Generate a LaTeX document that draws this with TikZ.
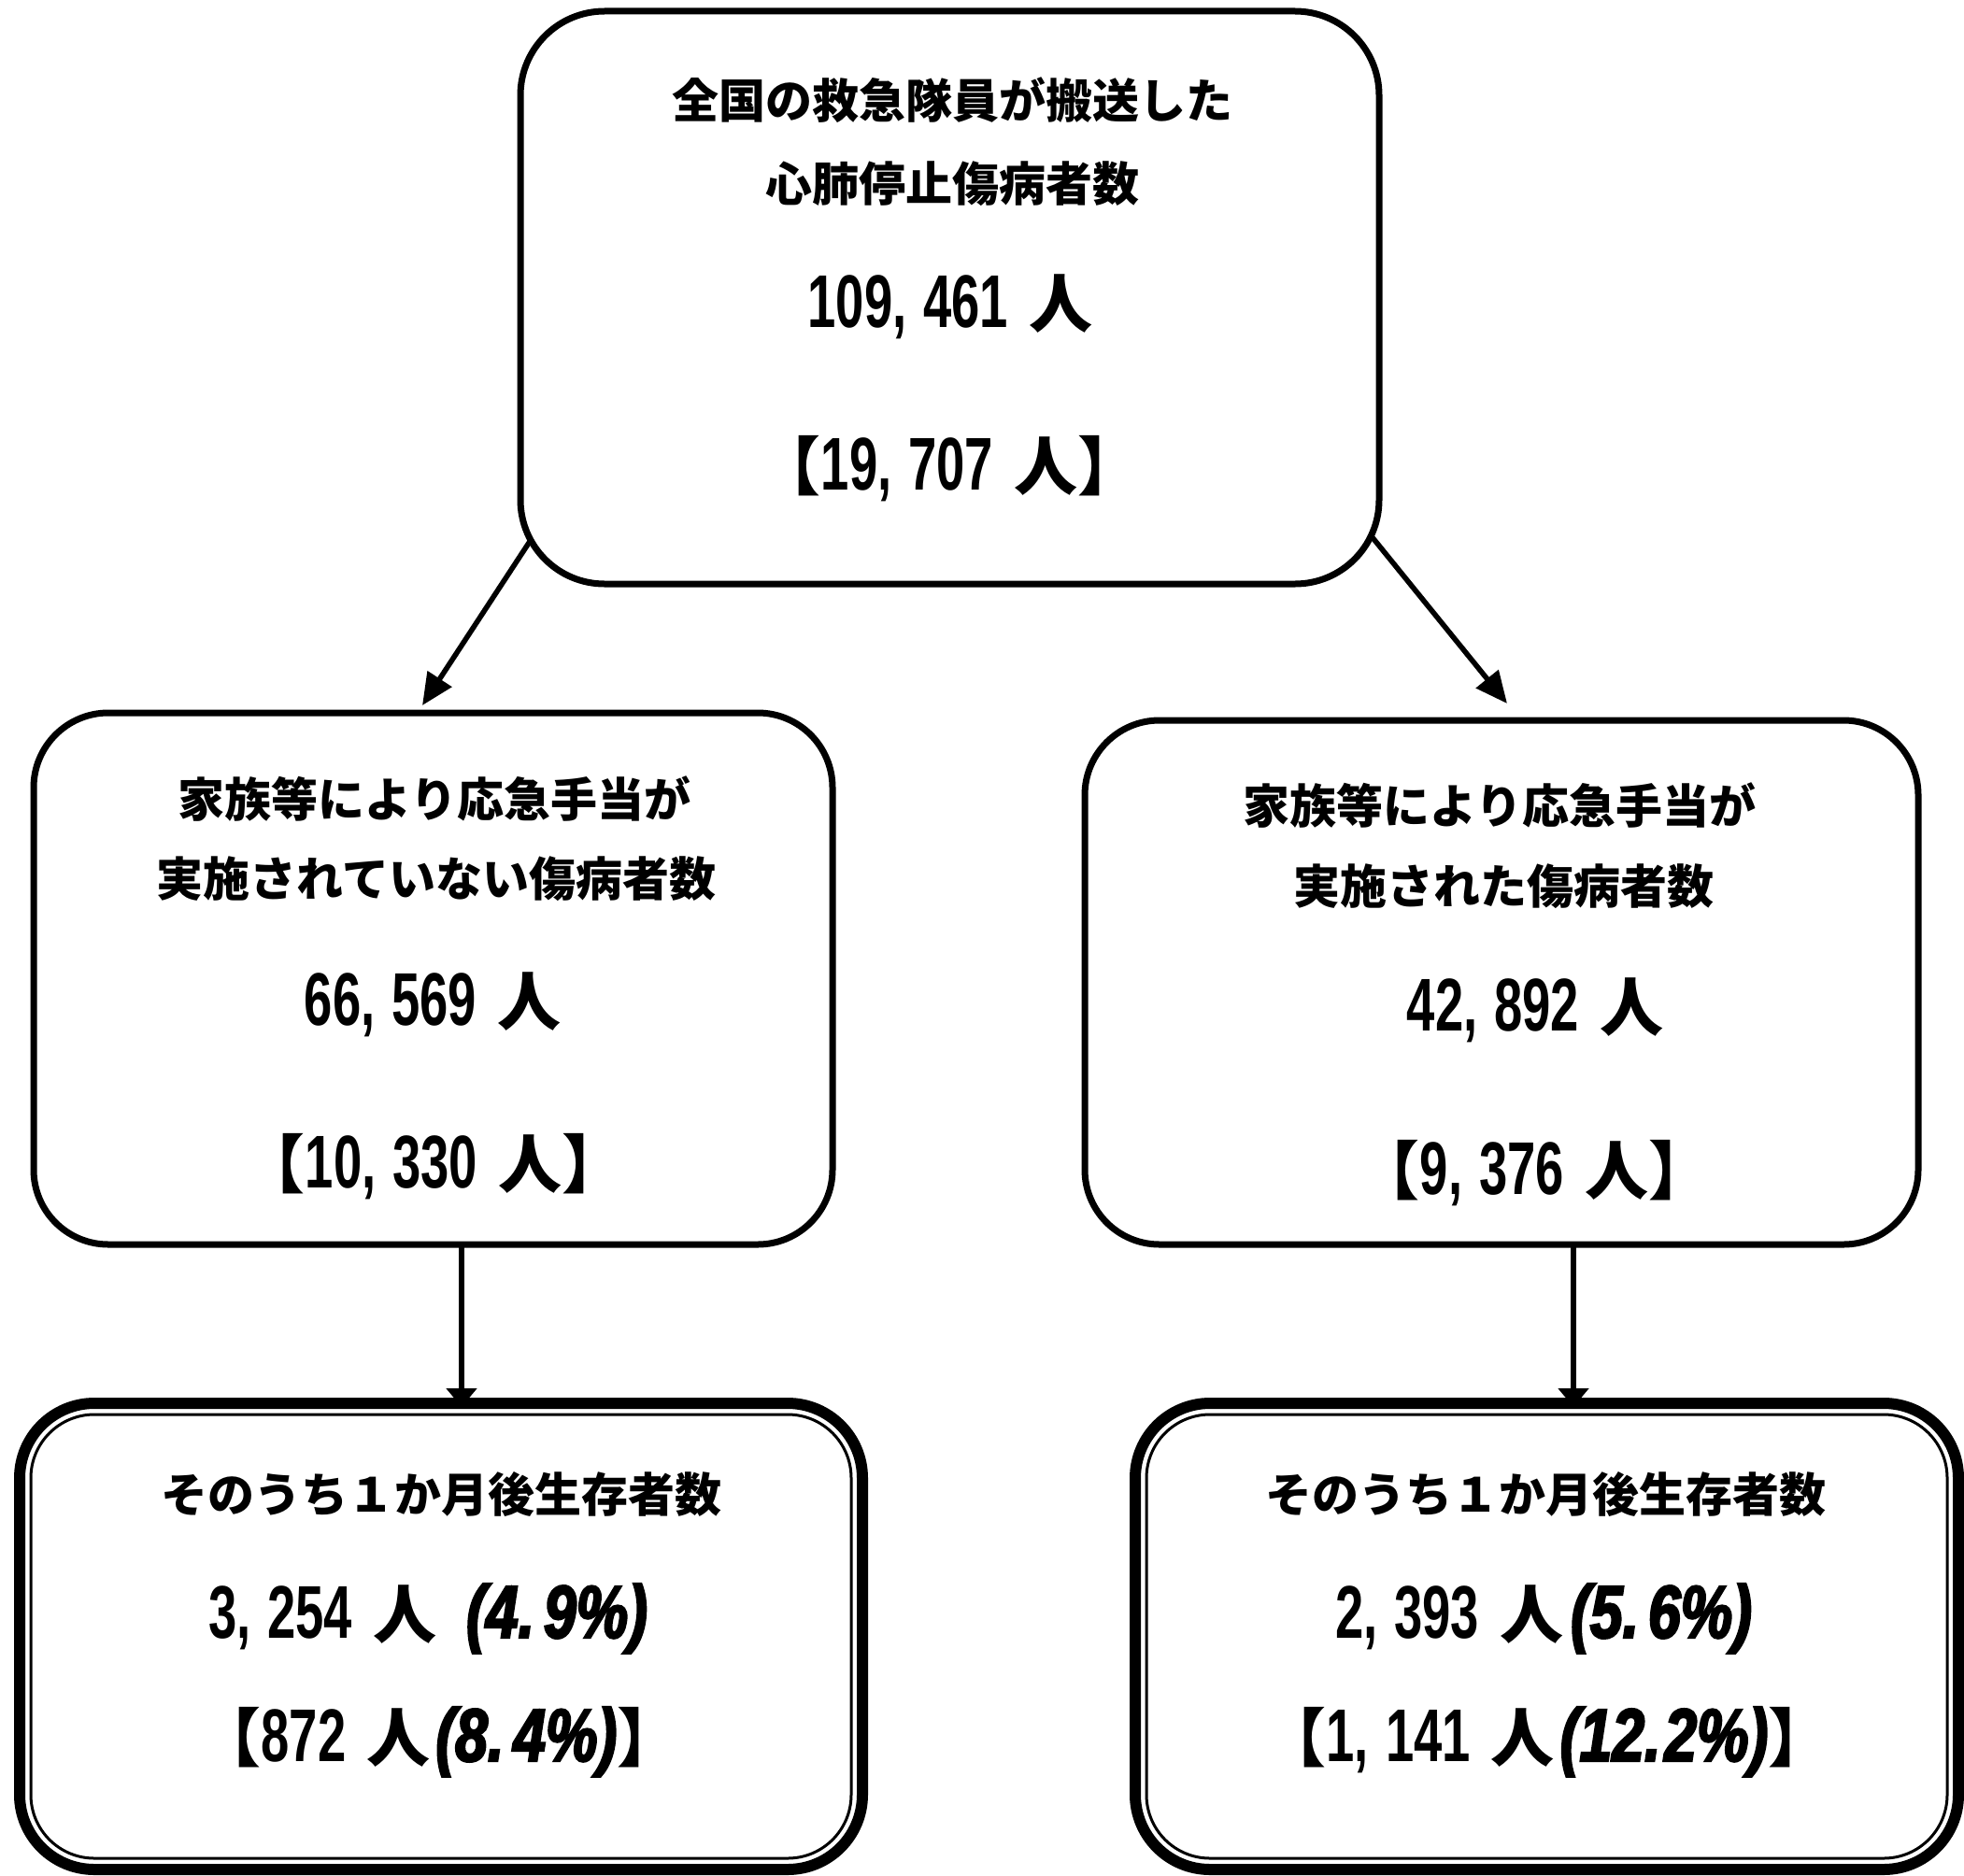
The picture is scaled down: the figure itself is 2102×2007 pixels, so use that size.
\documentclass[tikz,border=0pt]{standalone}
\usepackage{fontspec}
\usetikzlibrary{arrows.meta}
\newfontfamily\jpfont{Noto Sans CJK JP}
\newfontfamily\numfont{Liberation Sans}[FakeStretch=0.68]
\newfontfamily\pctfont{Liberation Sans}[FakeStretch=0.78,FakeBold=3]
\newcommand\jtxt[1]{{\jpfont\bfseries\fontsize{25pt}{30pt}\selectfont #1}}
\newcommand\numtxt[1]{{\numfont\bfseries\fontsize{40pt}{44pt}\selectfont #1}}
\newcommand\pcttxt[1]{{\pctfont\bfseries\itshape\fontsize{40pt}{44pt}\selectfont #1}}
\newcommand\bigj[1]{{\jpfont\bfseries\fontsize{34pt}{40pt}\selectfont #1}}
\tikzset{
  box/.style={draw, line width=3.5pt, rounded corners=40pt, inner sep=0pt, outer sep=0pt},
  outerbox/.style={draw, line width=6pt, rounded corners=40pt, inner sep=0pt, outer sep=0pt},
  innerbox/.style={draw, line width=1.5pt, rounded corners=34pt, inner sep=0pt, outer sep=0pt},
  label/.style={inner sep=0pt, outer sep=0pt, anchor=center},
  numline/.style={inner sep=0pt, outer sep=0pt, anchor=base},
  diagarrow/.style={line width=2.8pt, -{Triangle[length=17pt,width=15pt]}},
  vertarrow/.style={line width=3pt, -{Triangle[length=10pt,width=16pt]}}
}
\begin{document}
\begin{tikzpicture}[x=0.5pt,y=-0.5pt]
\useasboundingbox (0,0) rectangle (2102,2007);
% boxes
\node[box, rounded corners=45pt, minimum width=459.5pt, minimum height=306.5pt] (top) at (1016.5,318.5) {};
\node[box, minimum width=427.5pt, minimum height=284.5pt] (ml) at (463.5,1047.5) {};
\node[box, minimum width=446pt, minimum height=280.5pt] (mr) at (1607,1051.5) {};
\node[outerbox, minimum width=451pt, minimum height=249.5pt] (lbo) at (472,1751.5) {};
\node[innerbox, minimum width=439pt, minimum height=237.5pt] (lbi) at (472,1751.5) {};
\node[outerbox, minimum width=440.5pt, minimum height=249.5pt] (rbo) at (1655.5,1751.5) {};
\node[innerbox, minimum width=428.5pt, minimum height=237.5pt] (rbi) at (1655.5,1751.5) {};
% top texts
\node[label] (t1) at (1019,107) {\jtxt{全国の救急隊員が搬送した}};
\node[label] (t2) at (1019,197) {\jtxt{心肺停止傷病者数}};
\node[numline] (t3) at (1017,350) {\numtxt{109,\hspace{9pt}461}\hspace{11pt}\bigj{人}};
\node[numline] (t4) at (1016,524) {\bigj{【}\numtxt{19,\hspace{9pt}707}\hspace{11pt}\bigj{人】}};
% left middle texts
\node[label] (l1) at (465,855) {\jtxt{家族等により応急手当が}};
\node[label] (l2) at (467,941) {\jtxt{実施されていない傷病者数}};
\node[numline] (l3) at (463,1097) {\numtxt{66,\hspace{9pt}569}\hspace{11pt}\bigj{人}};
\node[numline] (l4) at (464,1271) {\bigj{【}\numtxt{10,\hspace{9pt}330}\hspace{11pt}\bigj{人】}};
% right middle texts
\node[label] (r1) at (1605,862) {\jtxt{家族等により応急手当が}};
\node[label] (r2) at (1609,949) {\jtxt{実施された傷病者数}};
\node[numline] (r3) at (1643,1103) {\numtxt{42,\hspace{9pt}892}\hspace{11pt}\bigj{人}};
\node[numline] (r4) at (1642,1278) {\bigj{【}\numtxt{9,\hspace{9pt}376}\hspace{11pt}\bigj{人】}};
% bottom left texts
\node[label] (b1) at (472,1599) {\jtxt{そのうち１か月後生存者数}};
\node[numline] (b2) at (458,1753) {\numtxt{3,\hspace{9pt}254}\hspace{11pt}\bigj{人}\hspace{16pt}\pcttxt{(4.\hspace{5pt}9\%)}};
\node[numline] (b3) at (470,1885) {\bigj{【}\numtxt{872}\hspace{11pt}\bigj{人}\hspace{3pt}\pcttxt{(8.\hspace{5pt}4\%)}\bigj{】}};
% bottom right texts
\node[label] (c1) at (1654,1599) {\jtxt{そのうち１か月後生存者数}};
\node[numline] (c2) at (1652,1753) {\numtxt{2,\hspace{9pt}393}\hspace{11pt}\bigj{人}\hspace{4pt}\pcttxt{(5.\hspace{5pt}6\%)}};
\node[numline] (c3) at (1656,1885) {\bigj{【}\numtxt{1,\hspace{9pt}141}\hspace{11pt}\bigj{人}\hspace{3pt}\pcttxt{(12.\hspace{2pt}2\%)}\bigj{】}};
% connectors
\coordinate (topl) at (568,578);
\coordinate (mlin) at (452,755);
\coordinate (topr) at (1467,573);
\coordinate (mrin) at (1613,753);
\coordinate (vl) at (494,0);
\coordinate (vr) at (1684,0);
\draw[diagarrow] (topl) -- (mlin);
\draw[diagarrow] (topr) -- (mrin);
\draw[vertarrow] (ml.south -| vl) -- ([yshift=-2pt]lbo.north -| vl);
\draw[vertarrow] (mr.south -| vr) -- ([yshift=-2pt]rbo.north -| vr);
\end{tikzpicture}
\end{document}
